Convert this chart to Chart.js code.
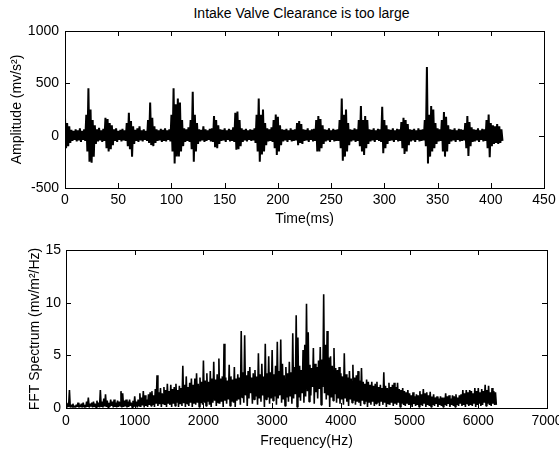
<!DOCTYPE html>
<html lang="en">

<head>
  <meta charset="UTF-8" />
  <title>Intake Valve Clearance is too large</title>
  <style>
    * {
      margin: 0;
      padding: 0;
    }

    body {
      width: 559px;
      height: 455px;
      overflow: hidden;
      position: relative;
      background: #fff;
      font-family: "Liberation Sans", Arial, Helvetica, sans-serif;
    }

    .title {
      position: absolute;
      left: 62px;
      top: 5px;
      width: 479px;
      text-align: center;
      font-size: 14px;
      line-height: 16px;
      color: #000;
    }

    .box {
      position: absolute;
      left: 0;
    }

    #topBox {
      top: 0;
    }

    #bottomBox {
      top: 230px;
    }
  </style>
</head>

<body>
  <div class="title">Intake Valve Clearance is too large</div>
  <div class="box" id="topBox"><canvas id="timeChart" width="600" height="228"></canvas></div>
  <div class="box" id="bottomBox"><canvas id="fftChart" width="600" height="220"></canvas></div>
  <script src="https://cdn.jsdelivr.net/npm/chart.js"></script>
  <script>
    Chart.defaults.font.family = "'Liberation Sans', Arial, Helvetica, sans-serif";
    Chart.defaults.font.size = 14;
    Chart.defaults.color = "#000";

    // time trace, one pair every 2 ms: top and bottom of the swing
    const timeStep = 2;
    const ampUpper = [
      170, 120, 90, 55, 45, 60, 50, 70, 45, 60,
      200, 452, 250, 150, 100, 60, 75, 50, 65, 170,
      160, 120, 100, 60, 70, 45, 55, 65, 50, 120,
      219, 140, 90, 55, 70, 90, 50, 60, 45, 150,
      316, 170, 90, 60, 50, 65, 55, 70, 50, 60,
      200, 452, 300, 355, 316, 150, 70, 60, 80, 150,
      420, 200, 120, 60, 55, 90, 60, 50, 65, 70,
      187, 150, 100, 60, 55, 70, 50, 65, 55, 80,
      219, 230, 150, 70, 55, 65, 50, 60, 55, 70,
      200, 355, 200, 250, 120, 70, 60, 80, 150, 203,
      180, 100, 60, 55, 65, 50, 70, 55, 60, 120,
      139, 110, 60, 55, 70, 50, 60, 65, 150, 187,
      160, 100, 60, 55, 70, 50, 65, 55, 60, 150,
      355, 200, 250, 120, 60, 55, 70, 60, 150, 284,
      150, 187, 150, 60, 55, 70, 50, 65, 60, 277,
      150, 100, 60, 55, 70, 50, 65, 60, 130, 171,
      150, 110, 60, 55, 65, 50, 70, 55, 60, 150,
      655, 200, 284, 250, 120, 70, 60, 150, 226, 180,
      100, 60, 55, 70, 50, 65, 60, 55, 120, 187,
      130, 80, 60, 55, 70, 50, 65, 60, 150, 203,
      120, 100, 90, 110, 90, 60
    ];
    const ampLower = [
      -120, -100, -70, -50, -40, -55, -45, -60, -40, -50,
      -150, -250, -258, -200, -80, -55, -45, -60, -50, -120,
      -152, -130, -90, -50, -60, -40, -55, -45, -50, -100,
      -130, -200, -80, -50, -60, -45, -55, -40, -50, -70,
      -90, -100, -70, -50, -45, -60, -50, -55, -40, -55,
      -150, -265, -200, -200, -150, -100, -60, -50, -60, -130,
      -248, -150, -80, -55, -45, -60, -50, -40, -55, -60,
      -110, -120, -80, -50, -45, -60, -40, -55, -50, -60,
      -135, -130, -100, -60, -45, -55, -40, -50, -45, -70,
      -150, -248, -180, -150, -90, -55, -50, -60, -120, -184,
      -150, -90, -55, -45, -60, -40, -55, -50, -45, -90,
      -70, -80, -50, -45, -60, -40, -55, -50, -150, -150,
      -120, -80, -55, -45, -60, -40, -55, -50, -50, -120,
      -240, -200, -150, -90, -55, -45, -60, -50, -100, -150,
      -184, -120, -80, -55, -45, -60, -40, -50, -60, -168,
      -120, -80, -50, -45, -60, -40, -55, -50, -120, -174,
      -150, -90, -55, -45, -60, -40, -55, -50, -45, -100,
      -265, -200, -150, -120, -80, -55, -50, -150, -200, -150,
      -80, -55, -45, -60, -40, -55, -50, -45, -120, -194,
      -100, -60, -55, -45, -60, -40, -55, -50, -120, -206,
      -100, -80, -70, -80, -70, -50
    ];
    const timeTicks = [0, 50, 100, 150, 200, 250, 300, 350, 400, 450];
    const ampTicks = [-500, 0, 500, 1000];

    // spectrum, one pair every 25 Hz (rows of 250 Hz)
    const freqStep = 25;
    const fftUpper = [
      0.5, 0.4, 1.7, 0.3, 0.4, 0.2, 0.3, 0.5, 0.3, 0.4,
      0.5, 0.3, 0.6, 1.0, 0.4, 0.5, 0.6, 0.4, 0.7, 0.5,
      1.7, 0.6, 0.9, 1.3, 0.7, 0.5, 0.8, 0.6, 0.8, 0.5,
      0.7, 0.6, 1.6, 1.4, 0.7, 0.8, 0.6, 0.8, 0.5, 0.7,
      1.1, 0.6, 0.8, 1.4, 1.0, 1.6, 1.2, 0.8, 1.3, 1.5,
      1.6, 1.2, 1.8, 3.1, 1.5, 1.9, 1.4, 2.0, 1.7, 2.3,
      1.6, 2.2, 1.8, 2.0, 2.3, 1.7, 2.1, 1.9, 4.0, 2.2,
      3.0, 2.0, 2.4, 2.8, 2.2, 2.8, 3.3, 2.3, 2.9, 2.5,
      4.5, 2.6, 3.3, 2.5, 3.5, 2.8, 4.4, 2.7, 3.2, 4.7,
      2.8, 3.0, 6.1, 2.9, 2.6, 4.1, 3.0, 2.7, 3.9, 2.8,
      3.2, 2.9, 7.3, 3.4, 6.9, 3.1, 3.5, 3.9, 2.9, 3.3,
      3.6, 3.0, 5.2, 3.2, 4.2, 3.0, 6.1, 3.3, 4.9, 3.4,
      5.5, 3.2, 4.0, 6.3, 3.5, 6.5, 4.2, 3.1, 3.9, 3.3,
      4.4, 3.4, 7.1, 3.9, 8.8, 6.7, 4.0, 3.6, 5.5, 6.0,
      9.9, 7.2, 4.1, 3.8, 5.7, 4.2, 3.9, 4.5, 5.8, 4.6,
      10.8, 6.0, 7.3, 4.8, 4.9, 4.0, 5.7, 3.8, 3.6, 3.9,
      3.3, 3.0, 5.2, 3.2, 2.9, 3.5, 2.8, 4.1, 2.9, 3.1,
      3.5, 2.6, 3.8, 2.5, 2.3, 2.7, 2.5, 2.2, 2.5, 2.1,
      2.3, 2.5, 2.0, 2.2, 1.9, 3.4, 2.1, 1.9, 2.4, 2.0,
      2.2, 2.4, 2.0, 2.4, 1.8, 1.7, 1.9, 1.6, 1.5, 1.7,
      1.4, 1.2, 1.5, 1.1, 1.3, 1.2, 1.6, 1.3, 1.8, 1.4,
      1.5, 1.2, 1.55, 1.1, 1.3, 1.0, 1.1, 0.9, 1.1, 1.0,
      1.0, 1.4, 1.1, 1.2, 0.9, 1.2, 1.1, 1.3, 1.0, 1.2,
      1.3, 1.7, 1.4, 1.7, 1.5, 1.7, 1.6, 1.4, 1.9, 1.6,
      1.9, 1.5, 1.8, 1.6, 2.2, 1.7, 2.1, 1.5, 1.9, 1.6,
      1.5
    ];
    const fftLower = [
      0.05, 0.1, 0.05, 0.1, 0.05, 0.05, 0.1, 0.05, 0.1, 0.05,
      0.1, 0.05, 0.1, 0.05, 0.15, 0.05, 0.1, 0.05, 0.1, 0.05,
      0.1, 0.05, 0.15, 0.1, 0.05, 0.1, 0.2, 0.05, 0.1, 0.05,
      0.1, 0.2, 0.05, 0.1, 0.15, 0.05, 0.1, 0.2, 0.05, 0.1,
      0.15, 0.05, 0.2, 0.1, 0.25, 0.05, 0.2, 0.1, 0.3, 0.2,
      0.3, 0.1, 0.4, 0.2, 0.35, 0.1, 0.4, 0.3, 0.1, 0.4,
      0.3, 0.1, 0.4, 0.2, 0.5, 0.1, 0.35, 0.2, 0.45, 0.1,
      0.4, 0.2, 0.5, 0.1, 0.4, 0.3, 0.5, 0.1, 0.45, 0.3,
      0.5, 0.2, 0.6, 0.3, 0.1, 0.5, 0.7, 0.2, 0.5, 0.4,
      0.6, 0.1, 0.7, 0.4, 0.8, 0.2, 0.6, 0.5, 0.1, 0.7,
      0.8, 0.3, 1.0, 0.5, 1.2, 0.2, 0.9, 1.4, 0.4, 0.8,
      1.1, 0.3, 0.9, 0.6, 1.2, 0.1, 0.8, 1.0, 0.4, 0.9,
      0.7, 1.1, 0.3, 0.9, 1.2, 0.5, 0.8, 0.2, 1.0, 0.6,
      1.1, 0.4, 0.9, 1.3, 0.1, 1.0, 0.7, 1.4, 0.5, 1.1,
      1.6, 0.6, 1.2, 2.0, 0.4, 1.5, 0.9, 1.8, 0.3, 2.0,
      1.4, 0.8, 1.2, 0.1, 1.0, 0.7, 1.3, 0.5, 0.9, 0.4,
      0.8, 0.3, 0.9, 0.6, 0.2, 0.8, 0.5, 0.7, 0.3, 0.6,
      0.5, 0.2, 0.7, 0.4, 0.6, 0.1, 0.5, 0.3, 0.6, 0.2,
      0.4, 0.5, 0.2, 0.6, 0.3, 0.5, 0.1, 0.4, 0.3, 0.5,
      0.2, 0.4, 0.3, 0.5, 0.1, 0.4, 0.3, 0.2, 0.4, 0.3,
      0.3, 0.1, 0.4, 0.2, 0.3, 0.1, 0.3, 0.2, 0.4, 0.1,
      0.3, 0.2, 0.1, 0.3, 0.2, 0.4, 0.1, 0.3, 0.2, 0.1,
      0.3, 0.2, 0.4, 0.1, 0.3, 0.2, 0.1, 0.3, 0.2, 0.4,
      0.2, 0.3, 0.1, 0.4, 0.2, 0.3, 0.2, 0.4, 0.1, 0.3,
      0.4, 0.2, 0.3, 0.5, 0.2, 0.4, 0.3, 0.2, 0.4, 0.3,
      0.3
    ];
    const freqTicks = [0, 1000, 2000, 3000, 4000, 5000, 6000, 7000];
    const fftTicks = [0, 5, 10, 15];

    // alternate top / bottom values so the line swings like the raw trace
    function zigzag(upper, lower, step) {
      const pts = [];
      for (let i = 0; i < upper.length; i++) {
        pts.push({ x: i * step, y: upper[i] });
        pts.push({ x: i * step + step / 2, y: lower[i] });
      }
      return pts;
    }

    // matlab style box with tick marks pointing inwards on all four sides
    const boxTicks = {
      id: "boxTicks",
      afterDraw(chart) {
        const { ctx, chartArea: a, scales } = chart;
        const len = 5;
        ctx.save();
        ctx.strokeStyle = "#000";
        ctx.lineWidth = 1;
        ctx.beginPath();
        scales.x.ticks.forEach(t => {
          const px = Math.round(scales.x.getPixelForValue(t.value)) + 0.5;
          ctx.moveTo(px, a.bottom);
          ctx.lineTo(px, a.bottom - len);
          ctx.moveTo(px, a.top);
          ctx.lineTo(px, a.top + len);
        });
        scales.y.ticks.forEach(t => {
          const py = Math.round(scales.y.getPixelForValue(t.value)) + 0.5;
          ctx.moveTo(a.left, py);
          ctx.lineTo(a.left + len, py);
          ctx.moveTo(a.right, py);
          ctx.lineTo(a.right - len, py);
        });
        ctx.stroke();
        ctx.strokeRect(Math.round(a.left) + 0.5, Math.round(a.top) + 0.5,
          Math.round(a.right - a.left), Math.round(a.bottom - a.top));
        ctx.restore();
      }
    };

    function makeChart(id, points, o) {
      return new Chart(document.getElementById(id), {
        type: "line",
        data: {
          datasets: [{
            data: points,
            borderColor: "#000",
            borderWidth: o.lineWidth,
            borderJoinStyle: "bevel",
            pointRadius: 0,
            tension: 0
          }]
        },
        options: {
          responsive: false,
          animation: false,
          events: [],
          layout: { padding: { top: o.top, right: o.right, left: 0, bottom: 0 } },
          plugins: { legend: { display: false }, tooltip: { enabled: false } },
          scales: {
            x: {
              type: "linear",
              min: o.xTicks[0],
              max: o.xTicks[o.xTicks.length - 1],
              afterBuildTicks: s => { s.ticks = o.xTicks.map(v => ({ value: v })); },
              afterFit: s => { s.height = o.xHeight; },
              grid: { display: false, drawTicks: false },
              border: { display: false },
              ticks: { padding: o.xPad, maxRotation: 0, autoSkip: false, callback: v => String(v) },
              title: { display: true, text: o.xTitle, padding: 0 }
            },
            y: {
              type: "linear",
              min: o.yTicks[0],
              max: o.yTicks[o.yTicks.length - 1],
              afterBuildTicks: s => { s.ticks = o.yTicks.map(v => ({ value: v })); },
              afterFit: s => { s.width = o.yWidth; },
              grid: { display: false, drawTicks: false },
              border: { display: false },
              ticks: { padding: o.yPad, autoSkip: false, callback: v => String(v) },
              title: { display: true, text: o.yTitle, padding: { top: o.yTitlePad, bottom: 0 } }
            }
          }
        },
        plugins: [boxTicks]
      });
    }

    const timeChart = makeChart("timeChart", zigzag(ampUpper, ampLower, timeStep), {
      top: 31, right: 56, xHeight: 40, yWidth: 65, xPad: 4, yPad: 6, yTitlePad: 9, lineWidth: 2,
      xTicks: timeTicks, yTicks: ampTicks,
      xTitle: "Time(ms)", yTitle: "Amplitude (mv/s²)"
    });

    const fftChart = makeChart("fftChart", zigzag(fftUpper, fftLower, freqStep), {
      top: 20, right: 53, xHeight: 42, yWidth: 66, xPad: 5, yPad: 5, yTitlePad: 27, lineWidth: 1.6,
      xTicks: freqTicks, yTicks: fftTicks,
      xTitle: "Frequency(Hz)", yTitle: "FFT Spectrum (mv/m²/Hz)"
    });
  </script>
</body>

</html>
